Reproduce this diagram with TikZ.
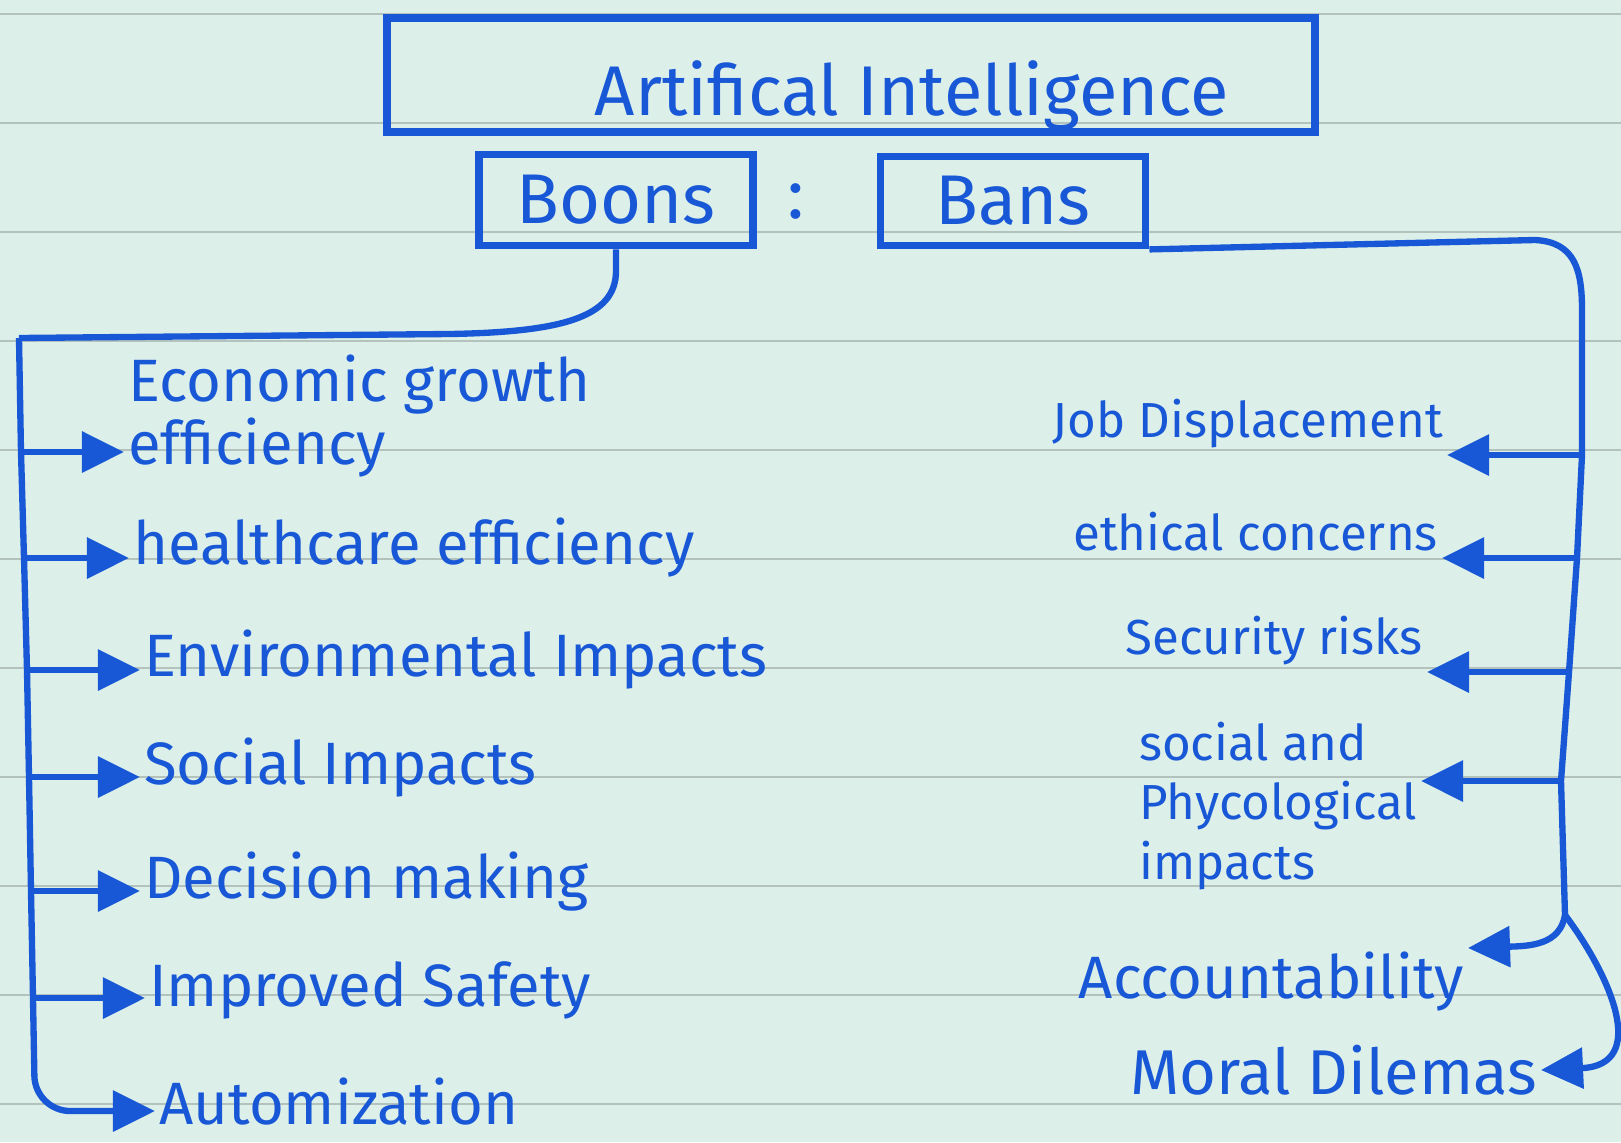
\documentclass[tikz,border=0pt]{standalone}
\usepackage{fontspec}
\setmainfont{Fira Sans}
\usepackage{xcolor}
\usetikzlibrary{arrows.meta}

\definecolor{ink}{RGB}{24,88,214}
\definecolor{paper}{RGB}{221,239,233}
\definecolor{rule}{RGB}{180,194,190}

\begin{document}
\begin{tikzpicture}[x=0.01cm,y=-0.01cm]
    \tikzstyle{box}=[rectangle,draw=ink,line width=2.2pt,text=ink,inner sep=0pt]
    \tikzstyle{boon}=[text=ink,inner sep=1pt,font=\fontsize{17}{16}\selectfont,align=left]
    \tikzstyle{ban}=[text=ink,inner sep=1pt,font=\fontsize{14}{17}\selectfont,align=left]
    \tikzstyle{wire}=[draw=ink,line width=1.8pt]
    \tikzstyle{arr}=[wire,-{Triangle[length=4.2mm,width=4mm]}]

   \useasboundingbox [fill=paper] (0,0) rectangle (1621,1142);

   % ruled paper
   \draw [rule, thin] (0,14) -- (1621,14);
   \draw [rule, thin] (0,123) -- (1621,123);
   \draw [rule, thin] (0,232) -- (1621,232);
   \draw [rule, thin] (0,341) -- (1621,341);
   \draw [rule, thin] (0,450) -- (1621,450);
   \draw [rule, thin] (0,559) -- (1621,559);
   \draw [rule, thin] (0,668) -- (1621,668);
   \draw [rule, thin] (0,777) -- (1621,777);
   \draw [rule, thin] (0,886) -- (1621,886);
   \draw [rule, thin] (0,995) -- (1621,995);
   \draw [rule, thin] (0,1104) -- (1621,1104);

   % headings
   \node [box,minimum width=9.27cm,minimum height=1.14cm] (ai) at (851,75) {};
   \node [text=ink,font=\fontsize{20}{24}\selectfont] (aititle) at (912,96) {Artifical Intelligence};
   \node [box,font=\fontsize{20}{24}\selectfont,minimum width=2.74cm,minimum height=0.91cm] (boons) at (616,200) {Boons};
   \node [text=ink,font=\fontsize{20}{24}\selectfont] (colon) at (796,202) {:};
   \node [box,font=\fontsize{20}{24}\selectfont,minimum width=2.65cm,minimum height=0.89cm] (bans) at (1013,201) {Bans};

   % boons
   \node [boon,anchor=west] (e1) at (124,416) {Economic growth\\efficiency};
   \node [boon,anchor=west] (e2) at (129,548) {healthcare efficiency};
   \node [boon,anchor=west] (e3) at (140,660) {Environmental Impacts};
   \node [boon,anchor=west] (e4) at (140,768) {Social Impacts};
   \node [boon,anchor=west] (e5) at (140,882) {Decision making};
   \node [boon,anchor=west] (e6) at (145,990) {Improved Safety};
   \node [boon,anchor=west] (e7) at (155,1102) {Automization};

   \coordinate (lt) at (19,338);
   \coordinate (l1) at (21,452);
   \coordinate (l2) at (24,558);
   \coordinate (l3) at (27,670);
   \coordinate (l4) at (29,777);
   \coordinate (l5) at (31,891);
   \coordinate (l6) at (33,998);
   \coordinate (l7) at (35,1111);

   \draw [wire] (boons.south) -- (616,271) .. controls (616,318) and (560,332) .. (450,334) -- (lt);
   \draw [wire] (lt) -- (l1) -- (l2) -- (l3) -- (l4) -- (l5) -- (l6);
   \draw [arr] (l1) -- (l1 -| e1.west);
   \draw [arr] (l2) -- (l2 -| e2.west);
   \draw [arr] (l3) -- (l3 -| e3.west);
   \draw [arr] (l4) -- (l4 -| e4.west);
   \draw [arr] (l5) -- (l5 -| e5.west);
   \draw [arr] (l6) -- (l6 -| e6.west);
   \draw [arr,rounded corners=10pt] (l6) -- (l7) -- (l7 -| e7.west);

   % bans
   \node [ban,anchor=south east] (jd) at (1447,452) {Job Displacement};
   \node [ban,anchor=south east] (ec) at (1442,555) {ethical concerns};
   \node [ban,anchor=south east] (sr) at (1427,669) {Security risks};
   \node [ban,anchor=east] (sp) at (1421,806) {social and\\Phycological\\impacts};
   \node [ban,anchor=north east,font=\fontsize{17}{20}\selectfont] (acc) at (1468,948) {Accountability};
   \node [ban,anchor=east,font=\fontsize{18}{20}\selectfont] (md) at (1541,1070) {Moral Dilemas};

   \coordinate (rt) at (1582,310);
   \coordinate (r1) at (1582,455);
   \coordinate (r2) at (1577,558);
   \coordinate (r3) at (1569,672);
   \coordinate (r4) at (1561,781);
   \coordinate (r5) at (1565,915);

   \draw [wire] (bans.south east) -- (1535,240) .. controls (1575,242) and (1582,270) .. (rt) -- (r1) -- (r2) -- (r3) -- (r4) -- (r5);
   \draw [arr] (r1) -- (r1 -| jd.east);
   \draw [arr] (r2) -- (r2 -| ec.east);
   \draw [arr] (r3) -- (r3 -| sr.east);
   \draw [arr] (r4) -- (r4 -| sp.east);
   \draw [arr] (r5) .. controls (1560,945) and (1530,946) .. (acc.north east);
   \draw [arr] (r5) .. controls (1610,975) and (1650,1065) .. (md.east);
\end{tikzpicture}
\end{document}
